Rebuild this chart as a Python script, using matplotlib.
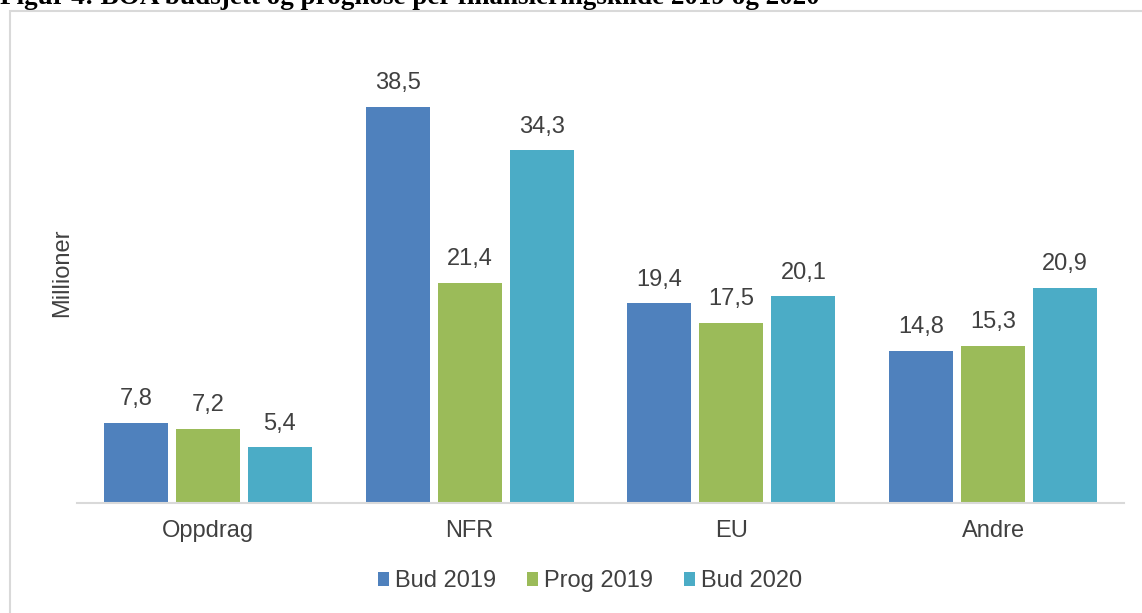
import matplotlib
matplotlib.use("Agg")
import matplotlib.pyplot as plt
from matplotlib.patches import Rectangle
import numpy as np

categories = ["Oppdrag", "NFR", "EU", "Andre"]
series_names = ["Bud 2019", "Prog 2019", "Bud 2020"]
bud2019 = [7.8, 38.5, 19.4, 14.8]
prog2019 = [7.2, 21.4, 17.5, 15.3]
bud2020 = [5.4, 34.3, 20.1, 20.9]
colors = ["#4F81BD", "#9BBB59", "#4BACC6"]

plt.rcParams['font.family'] = ['Liberation Sans', 'DejaVu Sans']

fig = plt.figure(figsize=(11.42, 6.13), dpi=100)
W, H = 1142, 613
FS = 17

# outer border
fig.patches.append(Rectangle((10 / W, -0.1), 1.2, (H - 11) / H + 0.1, transform=fig.transFigure,
                             fill=False, edgecolor="#d9d9d9", linewidth=1.5))

fig.text(0.0, 1 - 4.5 / H, "Figur 4: BOA budsjett og prognose per finansieringskilde 2019 og 2020",
         family="Liberation Serif", fontweight="bold", fontsize=19.5, va="baseline", ha="left")

ax = fig.add_axes([77 / W, (H - 503) / H, 1047 / W, (503 - 91.4) / H])
x = np.arange(len(categories))
bw = 64 / 261.75
step = 72 / 261.75
data = [bud2019, prog2019, bud2020]
for i, (vals, c, name) in enumerate(zip(data, colors, series_names)):
    pos = x + (i - 1) * step
    ax.bar(pos, vals, width=bw, color=c, label=name)
    for p, v in zip(pos, vals):
        ax.annotate(f"{v:.1f}".replace(".", ","), (p, v), xytext=(0, 9), textcoords="offset points",
                    ha="center", va="bottom", fontsize=FS, color="#404040")

ax.set_xlim(-0.5, 3.5)
ax.set_ylim(0, 40)
ax.set_yticks([])
for s in ["top", "right", "left"]:
    ax.spines[s].set_visible(False)
ax.spines["bottom"].set_color("#d9d9d9")
ax.spines["bottom"].set_linewidth(1.5)
ax.set_xticks(x)
ax.set_xticklabels(categories, fontsize=FS, color="#404040")
ax.tick_params(axis="x", length=0, pad=12)
ax.set_ylabel("Millioner", fontsize=FS, color="#404040", labelpad=3, y=0.56)

leg = fig.legend(loc="center", bbox_to_anchor=(590 / W, (H - 581) / H), ncol=3, frameon=False,
                 fontsize=FS, handlelength=0.48, handleheight=0.55, handletextpad=0.25,
                 columnspacing=1.3)
for t in leg.get_texts():
    t.set_color("#404040")

fig.savefig("out.png", dpi=100)
